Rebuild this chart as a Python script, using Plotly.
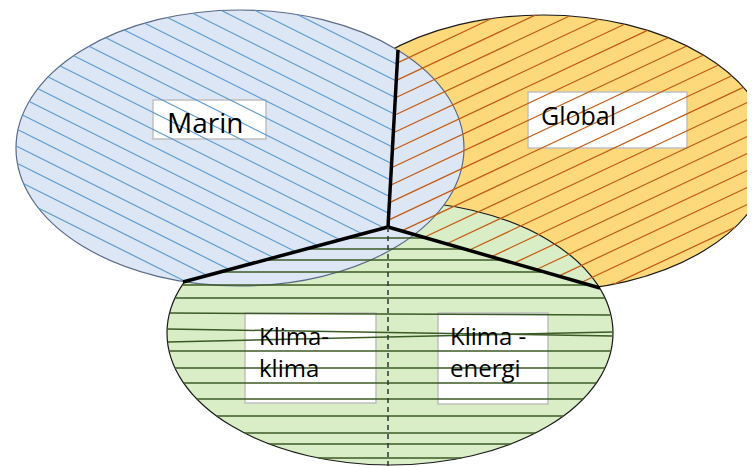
import numpy as np
import plotly.graph_objects as go

W, H = 755, 467
PAGE_MARGIN = 8  # default browser body margin, compensated through the axis ranges

# ---- ellipses (draw order: bottom -> top) ----
ellipse_names = ["Global", "Klima", "Marin"]
ellipse_cx = [543, 390, 240]
ellipse_cy = [153, 333, 148]
ellipse_rx = [228, 223, 224]
ellipse_ry = [138, 132, 138]
fill_colors = ["#fed97b", "#d9eec6", "#dce6f4"]
edge_colors = ["#1a1a1a", "#1a1a1a", "#5a6a86"]

# ---- divider lines ----
div_top = (398, 50)
div_center = (388, 227)
div_left = (183, 282)
div_right = (600, 288)
dash_bottom = (388, 470)

# ---- label boxes ----
label_lines = [["Marin"], ["Global"], ["Klima-", "klima"], ["Klima -", "energi"]]
box_x0 = [153, 528, 245, 438]
box_x1 = [266, 687, 376, 548]
box_y0 = [100, 92, 313, 313]
box_y1 = [139, 148, 403, 404]
text_x = [165, 539, 257, 448]
text_y = [122, 115, 335, 335]
font_sizes = [28, 25, 24, 24]
line_gap = 32

# ---- green horizontal hatch lines (y at left edge, y at right edge) ----
green_y_left = [238, 249, 260, 272, 285, 298, 313, 329, 342, 351, 368, 383, 399, 416, 433, 444, 458]
green_y_right = [238, 249, 260, 272, 285, 298, 315, 336, 332, 351, 368, 383, 399, 416, 433, 444, 458]

# hatch styles
blue_slope, blue_phase, blue_step = 0.5, -134.2, 17.0
orange_slope, orange_phase, orange_step = -0.47, 249.7, 17.0


def xv(y):
    (x0, y0), (x1, y1) = div_top, div_center
    return x0 + (x1 - x0) * (y - y0) / (y1 - y0)


def yl(x):
    (x0, y0), (x1, y1) = div_left, div_center
    return y0 + (y1 - y0) * (x - x0) / (x1 - x0)


def yr(x):
    (x0, y0), (x1, y1) = div_center, div_right
    return y0 + (y1 - y0) * (x - x0) / (x1 - x0)


def inside(i, x, y):
    return ((x - ellipse_cx[i]) / ellipse_rx[i]) ** 2 + ((y - ellipse_cy[i]) / ellipse_ry[i]) ** 2 <= 1


def upper_left(x, y):
    return np.where(y < div_center[1], x < xv(y), (x <= div_center[0]) & (y < yl(x)))


def upper_right(x, y):
    return np.where(y < div_center[1], x > xv(y), (x >= div_center[0]) & (y < yr(x)))


def segments(xs, ys, mask, X, Y):
    m = mask.astype(int)
    d = np.diff(np.concatenate([[0], m, [0]]))
    starts = np.where(d == 1)[0]
    ends = np.where(d == -1)[0] - 1
    for s, e in zip(starts, ends):
        if e > s:
            X += [xs[s], xs[e], None]
            Y += [ys[s], ys[e], None]


xs = np.arange(0, W + 0.01, 0.25)

# blue hatches
bx, by = [], []
for k in range(-20, 40):
    b = blue_phase + blue_step * k
    ys = blue_slope * xs + b
    mask = inside(2, xs, ys) & upper_left(xs, ys)
    segments(xs, ys, mask, bx, by)

# orange hatches
ox, oy = [], []
for k in range(-30, 40):
    b = orange_phase + orange_step * k
    ys = orange_slope * xs + b
    mask = inside(0, xs, ys) & upper_right(xs, ys)
    segments(xs, ys, mask, ox, oy)

# green hatches
gx, gy = [], []
gl = ellipse_cx[1] - ellipse_rx[1]
gw = 2 * ellipse_rx[1]
for yl0, yr0 in zip(green_y_left, green_y_right):
    ys = yl0 + (yr0 - yl0) * (xs - gl) / gw
    mask = inside(1, xs, ys) & ~upper_left(xs, ys) & ~upper_right(xs, ys)
    segments(xs, ys, mask, gx, gy)

fig = go.Figure()
fig.add_trace(go.Scatter(x=bx, y=by, mode="lines", line=dict(color="#5b9bd5", width=1.2),
                         hoverinfo="skip", showlegend=False))
fig.add_trace(go.Scatter(x=ox, y=oy, mode="lines", line=dict(color="#c55a11", width=1.2),
                         hoverinfo="skip", showlegend=False))
fig.add_trace(go.Scatter(x=gx, y=gy, mode="lines", line=dict(color="#3b5a26", width=1.5),
                         hoverinfo="skip", showlegend=False))

shapes = []
for i in range(3):
    shapes.append(dict(type="circle", xref="x", yref="y", layer="below",
                       x0=ellipse_cx[i] - ellipse_rx[i], x1=ellipse_cx[i] + ellipse_rx[i],
                       y0=ellipse_cy[i] - ellipse_ry[i], y1=ellipse_cy[i] + ellipse_ry[i],
                       fillcolor=fill_colors[i], line=dict(color=edge_colors[i], width=1.2)))
for i in range(4):
    shapes.append(dict(type="rect", xref="x", yref="y", layer="below",
                       x0=box_x0[i], x1=box_x1[i], y0=box_y0[i], y1=box_y1[i],
                       fillcolor="white", line=dict(color="#c0c0c0", width=1.5)))
for p in (div_top, div_left, div_right):
    shapes.append(dict(type="line", xref="x", yref="y", layer="above",
                       x0=div_center[0], y0=div_center[1], x1=p[0], y1=p[1],
                       line=dict(color="black", width=3.5)))
shapes.append(dict(type="line", xref="x", yref="y", layer="above",
                   x0=div_center[0], y0=div_center[1], x1=dash_bottom[0], y1=dash_bottom[1],
                   line=dict(color="#333333", width=1.5, dash="5px,4px")))

annotations = []
for i in range(4):
    for j, t in enumerate(label_lines[i]):
        annotations.append(dict(x=text_x[i], y=text_y[i] + j * line_gap, xref="x", yref="y",
                                text=t, showarrow=False, xanchor="left", yanchor="middle",
                                font=dict(family="Open Sans", size=font_sizes[i], color="black")))

fig.update_layout(
    width=W - PAGE_MARGIN, height=H - PAGE_MARGIN, autosize=False,
    margin=dict(l=0, r=0, t=0, b=0),
    paper_bgcolor="white", plot_bgcolor="white",
    xaxis=dict(range=[PAGE_MARGIN, W], visible=False, fixedrange=True),
    yaxis=dict(range=[H, PAGE_MARGIN], visible=False, fixedrange=True),
    shapes=shapes, annotations=annotations,
)
fig.write_html("out.html")
